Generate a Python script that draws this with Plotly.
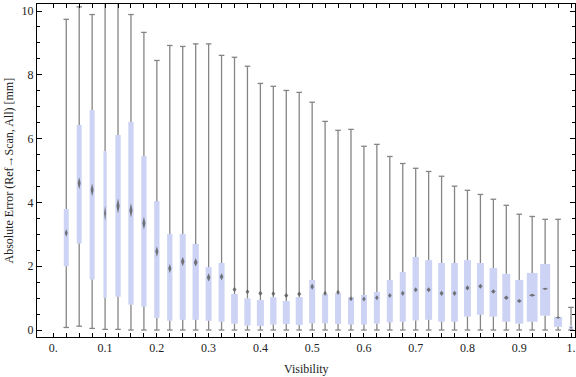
import plotly.graph_objects as go

# ---- data ----
visibility = [0.025, 0.05, 0.075, 0.1, 0.125, 0.15, 0.175, 0.2, 0.225, 0.25,
              0.275, 0.3, 0.325, 0.35, 0.375, 0.4, 0.425, 0.45, 0.475, 0.5,
              0.525, 0.55, 0.575, 0.6, 0.625, 0.65, 0.675, 0.7, 0.725, 0.75,
              0.775, 0.8, 0.825, 0.85, 0.875, 0.9, 0.925, 0.95, 0.975, 1.0]

upper = [9.74, 10.13, 9.89, 10.6, 10.24, 9.89, 9.33, 8.45, 8.92, 8.89,
         8.97, 8.97, 8.61, 8.55, 8.27, 7.73, 7.64, 7.51, 7.45, 7.14,
         6.54, 6.26, 6.29, 5.76, 5.82, 5.44, 5.22, 5.07, 4.97, 4.82,
         4.51, 4.38, 4.25, 4.10, 3.91, 3.63, 3.56, 3.47, 3.47, 0.71]

q3 = [3.79, 6.43, 6.90, 5.61, 6.11, 6.52, 5.45, 4.04, 3.01, 3.01,
      2.70, 1.97, 2.10, 1.13, 0.99, 0.94, 1.03, 0.91, 1.03, 1.57,
      1.13, 1.16, 1.03, 1.10, 1.19, 1.57, 1.82, 2.29, 2.19, 2.10,
      2.10, 2.19, 2.10, 1.94, 1.76, 1.57, 1.79, 2.07, 0.41, 0.13]

q1 = [2.00, 2.71, 1.58, 1.01, 1.04, 0.79, 0.73, 0.38, 0.29, 0.32,
      0.32, 0.29, 0.26, 0.20, 0.14, 0.13, 0.17, 0.19, 0.16, 0.21,
      0.21, 0.19, 0.17, 0.17, 0.20, 0.24, 0.26, 0.30, 0.32, 0.26,
      0.26, 0.42, 0.48, 0.42, 0.26, 0.20, 0.26, 0.45, 0.10, 0.01]

lower = [0.08, 0.12, 0.05, 0.02, 0.02, 0.0, 0.0, 0.0, 0.0, 0.0,
         0.0, 0.0, 0.0, 0.0, 0.0, 0.0, 0.0, 0.0, 0.0, 0.0,
         0.0, 0.0, 0.0, 0.0, 0.0, 0.0, 0.0, 0.0, 0.0, 0.0,
         0.0, 0.0, 0.0, 0.0, 0.0, 0.0, 0.0, 0.0, 0.0, 0.0]

mean = [3.04, 4.60, 4.39, 3.66, 3.89, 3.75, 3.35, 2.46, 1.93, 2.15,
        2.12, 1.65, 1.67, 1.27, 1.20, 1.15, 1.14, 1.08, 1.13, 1.36,
        1.15, 1.18, 0.98, 0.97, 1.01, 1.08, 1.15, 1.26, 1.26, 1.15,
        1.15, 1.32, 1.37, 1.21, 1.01, 0.91, 1.09, 1.29, 0.39, 0.07]

# half-height of the mean marker (uncertainty of the mean), mm
mean_err = [0.115, 0.19, 0.20, 0.235, 0.235, 0.22, 0.20, 0.16, 0.14, 0.15,
            0.13, 0.13, 0.11, 0.08, 0.08, 0.08, 0.08, 0.08, 0.08, 0.10,
            0.08, 0.08, 0.08, 0.08, 0.08, 0.08, 0.08, 0.08, 0.08, 0.08,
            0.08, 0.08, 0.08, 0.07, 0.07, 0.06, 0.05, 0.035, 0.035, 0.03]

x_tick_labels = ["0.", "0.1", "0.2", "0.3", "0.4", "0.5", "0.6", "0.7", "0.8", "0.9", "1."]
y_tick_labels = ["0", "2", "4", "6", "8", "10"]
x_title = "Visibility"
y_title = "Absolute Error (Ref\u2192Scan, All) [mm]"

# ---- styles ----
box_width_px = [5, 5, 5, 3.3, 5.3, 5.3, 5.3, 5.3, 5.3, 6,
                6.3, 6, 6, 6.7, 6.3, 7, 6.3, 7, 7, 6,
                6, 6, 6, 6, 6, 6, 6, 6.3, 7, 6.7,
                6.7, 7, 7, 7.7, 8, 8, 10.7, 10, 8, 4]
BOX_FILL = "#ccd3f4"
WHISKER = "#858585"
MEAN_COLOR = "rgba(95,95,95,0.85)"
FONT = "Liberation Serif"
TXT = "#222222"

W, H = 576, 377
ML, MR, MT, MB = 37, 1, 4, 40
x_range = [-0.0315, 1.0077]
y_range = [-0.219, 10.22]
px_per_x = (W - ML - MR) / (x_range[1] - x_range[0])
box_width = [w / px_per_x for w in box_width_px]

fig = go.Figure()

# boxes (Q1..Q3)
fig.add_trace(go.Bar(
    x=visibility, y=[b - a for a, b in zip(q1, q3)], base=q1, width=box_width,
    marker=dict(color=BOX_FILL, line=dict(width=0)), hoverinfo="skip", showlegend=False))

# whiskers: two segments per box
wx, wy = [], []
for xv, lo, a, b, hi in zip(visibility, lower, q1, q3, upper):
    wx += [xv, xv, None, xv, xv, None]
    wy += [lo, a, None, b, hi, None]
fig.add_trace(go.Scatter(x=wx, y=wy, mode="lines",
                         line=dict(color=WHISKER, width=1.3),
                         hoverinfo="skip", showlegend=False))

# whisker caps
fig.add_trace(go.Scatter(
    x=visibility + visibility, y=lower + upper, mode="markers",
    marker=dict(symbol="line-ew", size=4, line=dict(color=WHISKER, width=1.3)),
    hoverinfo="skip", showlegend=False))

# mean diamonds
dx, dy = [], []
for xv, m, e, w in zip(visibility, mean, mean_err, box_width):
    hw = 0.3 * w
    dx += [xv, xv + hw, xv, xv - hw, xv, None]
    dy += [m + e, m, m - e, m, m + e, None]
fig.add_trace(go.Scatter(x=dx, y=dy, mode="lines", fill="toself",
                         fillcolor=MEAN_COLOR, line=dict(width=0, color=MEAN_COLOR),
                         hoverinfo="skip", showlegend=False))

x_tickvals = [round(0.025 * i, 3) for i in range(0, 41)]
x_ticktext = [x_tick_labels[i // 4] if i % 4 == 0 else "" for i in range(0, 41)]

fig.update_layout(
    width=W, height=H,
    margin=dict(l=ML, r=MR, t=MT, b=MB, pad=0, autoexpand=False),
    paper_bgcolor="white", plot_bgcolor="white",
    font=dict(family=FONT, size=12, color=TXT),
    showlegend=False,
    xaxis=dict(
        range=x_range, showgrid=False, zeroline=False, automargin=False,
        showline=True, linecolor="black", linewidth=1, mirror="allticks",
        ticks="inside", ticklen=4, tickcolor="black", tickwidth=1,
        tickmode="array", tickvals=x_tickvals, ticktext=x_ticktext,
        tickfont=dict(family=FONT, size=12, color=TXT),
    ),
    yaxis=dict(
        range=y_range, showgrid=False, zeroline=False, automargin=False,
        showline=True, linecolor="black", linewidth=1, mirror="allticks",
        ticks="inside", ticklen=5, tickcolor="black", tickwidth=1,
        tickmode="array", tickvals=[0, 2, 4, 6, 8, 10], ticktext=y_tick_labels,
        minor=dict(dtick=0.5, tick0=0, ticks="inside", ticklen=3, tickcolor="black", tickwidth=1, showgrid=False),
        tickfont=dict(family=FONT, size=12, color=TXT),
    ),
    annotations=[
        dict(text=x_title, xref="paper", yref="paper", x=0.5, y=0,
             xanchor="center", yanchor="middle", yshift=-32, showarrow=False,
             font=dict(family=FONT, size=12, color=TXT)),
        dict(text=y_title, xref="paper", yref="paper", x=0, y=0.5,
             xanchor="center", yanchor="middle", xshift=-29, textangle=-90, showarrow=False,
             font=dict(family=FONT, size=12, color=TXT)),
    ],
)

fig.write_html("out.html", config={"displayModeBar": False},
               post_script="document.body.style.margin='0';document.body.style.overflow='hidden';")
